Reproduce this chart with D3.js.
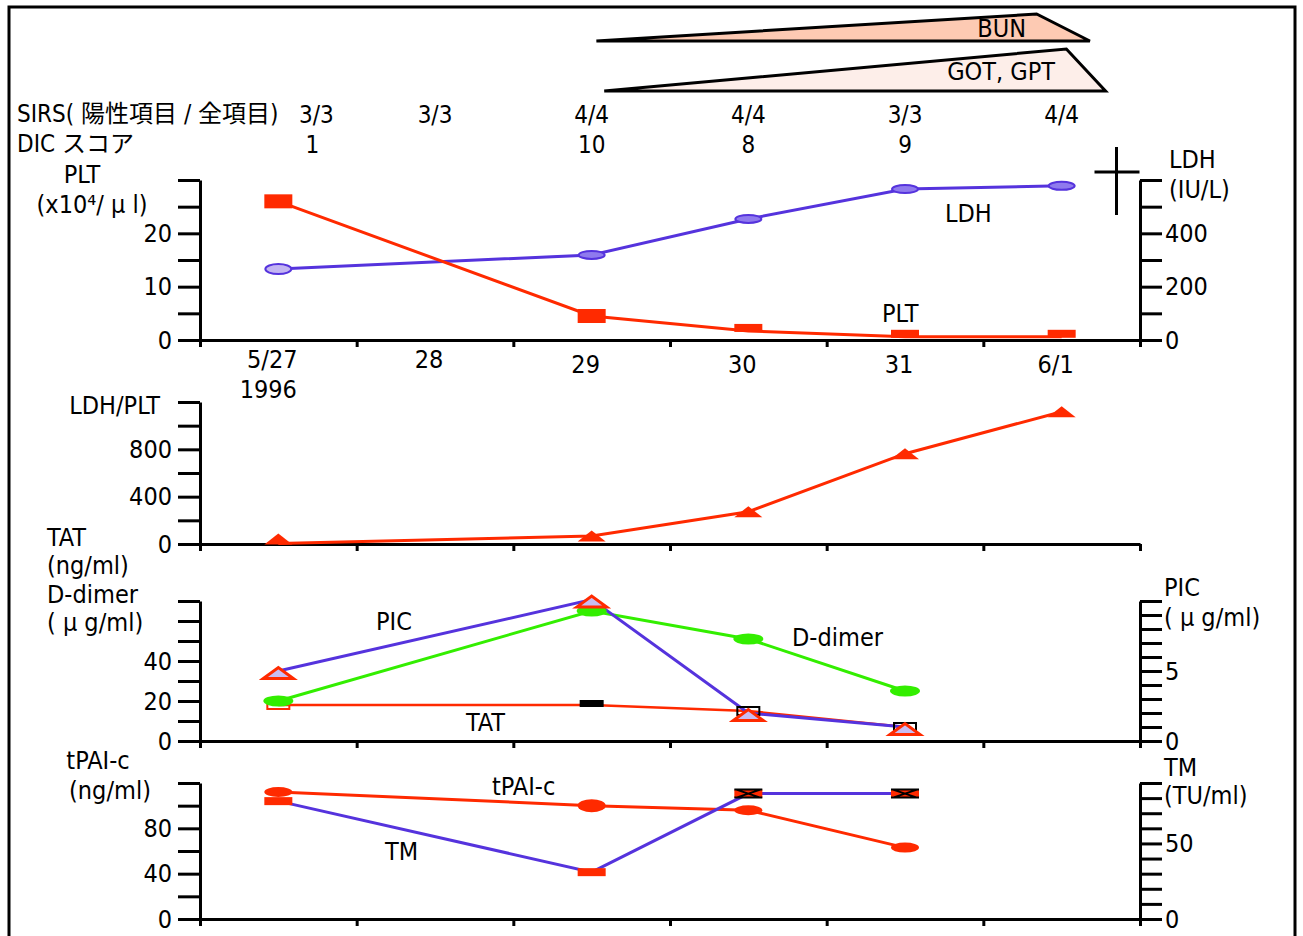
<!DOCTYPE html>
<html>
<head>
<meta charset="utf-8">
<script src="https://cdn.jsdelivr.net/npm/d3@7"></script>
<style>
  body { margin: 0; background: #fff; overflow: hidden; }
  svg { display: block; }
  svg text { font-family: "Liberation Sans Narrow", "DejaVu Sans Condensed", "Noto Sans CJK JP", sans-serif; font-size: 25px; fill: #000; }
  svg text.row { font-size: 24px; }
</style>
</head>
<body>
<div id="chart"></div>
<script>
(function () {
  'use strict';

  var days = ['5/27', '28', '29', '30', '31', '6/1'];
  var sirs = ['3/3', '3/3', '4/4', '4/4', '3/3', '4/4'];
  var dic = ['1', '', '10', '8', '9', ''];

  var plt = [26, null, 4.5, 1.7, 0.6, 0.6];
  var ldh = [266, null, 319, 454, 566, 578];
  var ldhPlt = [5, null, 68, 273, 763, 1118];
  var tat = [18, null, 18, 15, 7, null];
  var dDimer = [20, null, 65, 51, 25, null];
  var pic = [5.0, null, 10.1, 2.0, 1.0, null];
  var tpaic = [112, null, 100, 96, 63, null];
  var tm = [78, null, 31, 83, 83, null];

  // onset, peak, end (day position) of the wedges
  var bunWedge = [2.53, 5.34, 5.68];
  var gotWedge = [2.58, 5.53, 5.78];

  var W = 1303, H = 936;
  var red = '#ff2a00', blue = '#5533dd', green = '#33ee00';

  var svg = d3.select('#chart').append('svg')
    .attr('width', W).attr('height', H);

  svg.append('rect')
    .attr('x', 9).attr('y', 7).attr('width', 1286).attr('height', 960)
    .attr('fill', 'none').attr('stroke', '#000').attr('stroke-width', 3);

  var x = d3.scaleLinear().domain([0, 6]).range([200, 1140]);
  function cx(i) { return x(i + 0.5); }

  // ---- wedges (BUN, GOT/GPT)
  function wedge(pts, base, peak, fill, label, lx, ly) {
    var p = [[x(pts[0]), base], [x(pts[1]), base - peak], [x(pts[2]), base], [x(pts[0]), base]];
    svg.append('path')
      .attr('d', d3.line()(p))
      .attr('fill', fill).attr('stroke', '#000').attr('stroke-width', 3)
      .attr('stroke-linejoin', 'miter');
    svg.append('text').attr('x', lx).attr('y', ly).attr('text-anchor', 'end').text(label);
  }
  wedge(bunWedge, 41, 27, '#fdcab3', 'BUN', 1026, 37);
  wedge(gotWedge, 91, 42, '#fdeee9', 'GOT, GPT', 1055, 80);

  // ---- SIRS / DIC rows
  svg.append('text').attr('class', 'row').attr('x', 17).attr('y', 122).text('SIRS( 陽性項目 / 全項目)');
  svg.append('text').attr('class', 'row').attr('x', 17).attr('y', 152).text('DIC スコア');
  svg.selectAll('.sirs').data(sirs).enter().append('text')
    .attr('class', 'row')
    .attr('text-anchor', 'middle')
    .attr('x', function (d, i) { return i === 0 ? cx(i) + 38 : cx(i); })
    .attr('y', 123)
    .text(function (d) { return d; });
  svg.selectAll('.dic').data(dic).enter().append('text')
    .attr('class', 'row')
    .attr('text-anchor', 'middle')
    .attr('x', function (d, i) { return i === 0 ? cx(i) + 34 : cx(i); })
    .attr('y', 153)
    .text(function (d) { return d; });

  function styleAxis(g) {
    g.selectAll('path.domain').attr('stroke-width', 3);
    g.selectAll('.tick line').attr('stroke-width', 3);
    g.selectAll('.tick text')
      .style('font-family', '"Liberation Sans Narrow", "DejaVu Sans Condensed", sans-serif')
      .style('font-size', '25px');
  }
  function leftAxis(y, step, labels) {
    var d = y.domain();
    var g = svg.append('g').attr('transform', 'translate(200,0)')
      .call(d3.axisLeft(y).tickValues(d3.range(d[0], d[1] + step / 2, step))
        .tickSize(22).tickSizeOuter(0).tickPadding(6)
        .tickFormat(function (v) { return labels.indexOf(v) >= 0 ? v : ''; }));
    styleAxis(g);
  }
  function rightAxis(y, step, labels) {
    var d = y.domain();
    var g = svg.append('g').attr('transform', 'translate(1140,0)')
      .call(d3.axisRight(y).tickValues(d3.range(d[0], d[1] + step / 2, step))
        .tickSize(22).tickSizeOuter(0).tickPadding(3)
        .tickFormat(function (v) { return labels.indexOf(v) >= 0 ? v : ''; }));
    styleAxis(g);
  }
  function bottomAxis(y0) {
    var g = svg.append('g').attr('transform', 'translate(0,' + y0 + ')')
      .call(d3.axisBottom(x).tickValues(d3.range(0, 7)).tickSize(7).tickSizeOuter(0).tickFormat(''));
    styleAxis(g);
  }
  function pts(arr) {
    return arr.map(function (v, i) { return [i, v]; }).filter(function (d) { return d[1] !== null; });
  }
  function drawLine(arr, y, color, w) {
    svg.append('path')
      .attr('d', d3.line().x(function (d) { return cx(d[0]); }).y(function (d) { return y(d[1]); })(pts(arr)))
      .attr('fill', 'none').attr('stroke', color).attr('stroke-width', w);
  }
  function label(txt, lx, ly, anchor) {
    svg.append('text').attr('x', lx).attr('y', ly).attr('text-anchor', anchor || 'start').text(txt);
  }
  function triPath(w, h) {
    return 'M' + (-w / 2) + ',' + (h / 2) + 'L0,' + (-h / 2) + 'L' + (w / 2) + ',' + (h / 2) + 'Z';
  }

  // ================= Panel 1: PLT / LDH
  var y1 = d3.scaleLinear().domain([0, 30]).range([340, 180]);
  var y1r = d3.scaleLinear().domain([0, 600]).range([340, 180]);
  bottomAxis(340);
  leftAxis(y1, 5, [0, 10, 20]);
  rightAxis(y1r, 100, [0, 200, 400]);

  drawLine(ldh, y1r, blue, 3);
  drawLine(plt, y1, red, 3);

  svg.selectAll('.ldhm').data(pts(ldh)).enter().append('ellipse')
    .attr('cx', function (d) { return cx(d[0]); }).attr('cy', function (d) { return y1r(d[1]); })
    .attr('rx', 13).attr('ry', function (d, i) { return i === 0 ? 5 : 4; })
    .attr('fill', function (d, i) { return i === 0 ? '#c3b5f2' : '#8f7aee'; })
    .attr('stroke', blue).attr('stroke-width', 2);
  svg.selectAll('.pltm').data(pts(plt)).enter().append('rect')
    .attr('x', function (d) { return cx(d[0]) - 14; })
    .attr('y', function (d) { return Math.min(y1(d[1]) - 7, 340 - 10); })
    .attr('width', 28)
    .attr('height', function (d) { return y1(d[1]) > 325 ? 8 : 14; })
    .attr('fill', red);

  svg.selectAll('.day').data(days).enter().append('text')
    .attr('text-anchor', 'middle')
    .attr('x', function (d, i) { return cx(i) - 6; })
    .attr('y', function (d, i) { return i < 2 ? 368 : 373; })
    .text(function (d) { return d; });
  label('1996', cx(0) - 10, 398, 'middle');

  label('PLT', 82, 183, 'middle');
  label('(x10⁴/ μ l)', 92, 213, 'middle');
  label('LDH', 1169, 168);
  label('(IU/L)', 1169, 198);
  label('LDH', 945, 222);
  label('PLT', 882, 322);

  // death mark
  var dx = x(5.85);
  svg.append('path')
    .attr('d', 'M' + dx + ',147V215M' + (dx - 22) + ',172H' + (dx + 23))
    .attr('stroke', '#000').attr('stroke-width', 3).attr('fill', 'none');

  // ================= Panel 2: LDH/PLT
  var y2 = d3.scaleLinear().domain([0, 1200]).range([544, 402]);
  bottomAxis(544);
  leftAxis(y2, 200, [0, 400, 800]);
  drawLine(ldhPlt, y2, red, 3);
  svg.selectAll('.lpm').data(pts(ldhPlt)).enter().append('path')
    .attr('d', triPath(28, 11))
    .attr('transform', function (d) { return 'translate(' + cx(d[0]) + ',' + Math.min(y2(d[1]), 539) + ')'; })
    .attr('fill', red);
  label('LDH/PLT', 160, 414, 'end');

  // ================= Panel 3: TAT, D-dimer, PIC
  var y3 = d3.scaleLinear().domain([0, 70]).range([741, 601]);
  var y3r = d3.scaleLinear().domain([0, 10]).range([741, 601]);
  bottomAxis(741);
  leftAxis(y3, 10, [0, 20, 40]);
  rightAxis(y3r, 1, [0, 5]);

  drawLine(tat, y3, red, 2.5);
  drawLine(dDimer, y3, green, 3);
  drawLine(pic, y3r, blue, 3);

  svg.selectAll('.tatm').data(pts(tat)).enter().append('rect')
    .attr('x', function (d) { return cx(d[0]) - 11; })
    .attr('y', function (d) { return y3(d[1]) - 4; })
    .attr('width', 22).attr('height', function (d, i) { return i === 1 ? 5 : 8; })
    .attr('fill', function (d, i) { return i === 1 ? '#000' : 'none'; })
    .attr('stroke', function (d, i) { return i === 0 ? red : '#000'; })
    .attr('stroke-width', 2);
  svg.selectAll('.ddm').data(pts(dDimer)).enter().append('ellipse')
    .attr('cx', function (d) { return cx(d[0]); }).attr('cy', function (d) { return y3(d[1]); })
    .attr('rx', 15).attr('ry', 5.5).attr('fill', green);
  svg.selectAll('.picm').data(pts(pic)).enter().append('path')
    .attr('d', triPath(30, 11))
    .attr('transform', function (d) { return 'translate(' + cx(d[0]) + ',' + (y3r(d[1]) + 2) + ')'; })
    .attr('fill', '#c9bdf2').attr('stroke', red).attr('stroke-width', 3);

  label('TAT', 47, 546);
  label('(ng/ml)', 47, 574);
  label('D-dimer', 47, 603);
  label('( μ g/ml)', 47, 631);
  label('PIC', 1164, 596);
  label('( μ g/ml)', 1164, 626);
  label('PIC', 376, 630);
  label('D-dimer', 792, 646);
  label('TAT', 466, 731);

  // ================= Panel 4: tPAI-c, TM
  var y4 = d3.scaleLinear().domain([0, 120]).range([919, 783]);
  var y4r = d3.scaleLinear().domain([0, 90]).range([919, 783]);
  bottomAxis(919);
  leftAxis(y4, 20, [0, 40, 80]);
  rightAxis(y4r, 10, [0, 50]);

  drawLine(tpaic, y4, red, 3);
  drawLine(tm, y4r, blue, 3);

  svg.selectAll('.tpm').data(pts(tpaic)).enter().append('ellipse')
    .attr('cx', function (d) { return cx(d[0]); }).attr('cy', function (d) { return y4(d[1]); })
    .attr('rx', 14).attr('ry', function (d, i) { return i === 1 ? 6.5 : 5; })
    .attr('fill', red);
  var tmm = svg.selectAll('.tmm').data(pts(tm)).enter().append('g')
    .attr('transform', function (d) { return 'translate(' + cx(d[0]) + ',' + y4r(d[1]) + ')'; });
  tmm.append('rect').attr('x', -14).attr('y', -4).attr('width', 28).attr('height', 8).attr('fill', red);
  tmm.filter(function (d, i) { return i >= 2; }).append('path')
    .attr('d', 'M-14,-4H14M-14,4H14M-12,-4L12,4M-12,4L12,-4')
    .attr('stroke', '#000').attr('stroke-width', 2).attr('fill', 'none');

  label('tPAI-c', 98, 769, 'middle');
  label('(ng/ml)', 110, 799, 'middle');
  label('TM', 1164, 776);
  label('(TU/ml)', 1164, 804);
  label('tPAI-c', 492, 795);
  label('TM', 385, 860);
}());
</script>
</body>
</html>
